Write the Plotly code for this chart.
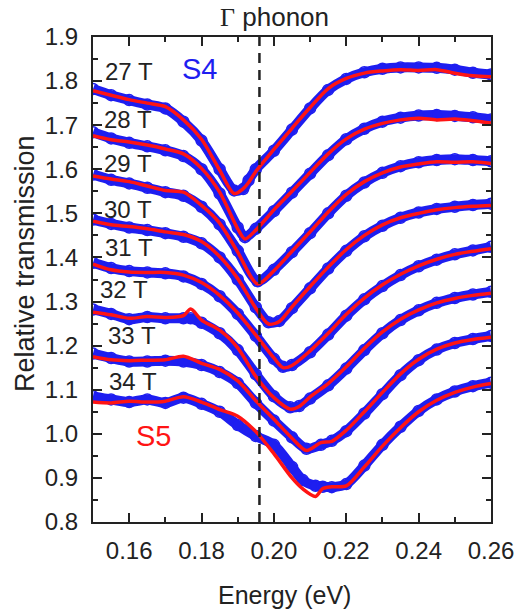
import plotly.graph_objects as go

# ---------------- data ----------------
x27 = [.150,.155,.160,.165,.170,.175,.180,.185,.189,.1915,.193,.195,.200,.205,.210,.215,.220,.225,.230,.235,.240,.245,.250,.255,.260]
b27 = [1.782,1.768,1.757,1.747,1.738,1.708,1.665,1.600,1.552,1.555,1.575,1.600,1.642,1.690,1.738,1.780,1.805,1.820,1.828,1.831,1.831,1.830,1.826,1.819,1.815]
r27 = [1.778,1.768,1.758,1.750,1.742,1.712,1.668,1.598,1.545,1.556,1.570,1.595,1.645,1.693,1.740,1.783,1.806,1.818,1.823,1.826,1.824,1.826,1.818,1.812,1.810]

x28 = [.150,.155,.160,.165,.170,.175,.180,.185,.190,.192,.195,.200,.205,.210,.215,.220,.225,.230,.235,.240,.245,.250,.255,.260]
b28 = [1.684,1.670,1.660,1.652,1.643,1.630,1.600,1.545,1.468,1.446,1.465,1.505,1.547,1.590,1.632,1.668,1.692,1.708,1.717,1.722,1.723,1.721,1.718,1.713]
r28 = [1.676,1.667,1.662,1.655,1.646,1.635,1.602,1.548,1.465,1.442,1.462,1.508,1.550,1.593,1.635,1.669,1.691,1.704,1.712,1.716,1.712,1.714,1.710,1.705]

x29 = [.150,.155,.160,.165,.170,.175,.180,.185,.190,.1955,.200,.205,.210,.215,.220,.225,.230,.235,.240,.245,.250,.255,.260]
b29 = [1.588,1.576,1.568,1.558,1.548,1.540,1.515,1.475,1.415,1.346,1.372,1.412,1.455,1.500,1.540,1.570,1.592,1.607,1.616,1.621,1.623,1.621,1.618]
r29 = [1.585,1.578,1.572,1.562,1.552,1.548,1.518,1.478,1.412,1.340,1.370,1.414,1.458,1.503,1.543,1.572,1.592,1.605,1.612,1.617,1.616,1.617,1.613]

x30 = [.150,.155,.160,.165,.170,.175,.180,.185,.190,.195,.1985,.2015,.205,.210,.215,.220,.225,.230,.235,.240,.245,.250,.255,.260]
b30 = [1.486,1.476,1.468,1.462,1.455,1.447,1.432,1.400,1.350,1.287,1.253,1.256,1.285,1.330,1.375,1.415,1.448,1.472,1.490,1.502,1.510,1.515,1.519,1.522]
r30 = [1.482,1.474,1.470,1.465,1.458,1.452,1.436,1.402,1.352,1.285,1.249,1.255,1.288,1.334,1.378,1.418,1.450,1.474,1.490,1.500,1.508,1.513,1.516,1.518]

x31 = [.150,.155,.160,.165,.170,.175,.180,.185,.190,.195,.200,.2025,.205,.210,.215,.220,.225,.230,.235,.240,.245,.250,.255,.260]
b31 = [1.388,1.376,1.369,1.366,1.364,1.357,1.340,1.312,1.272,1.222,1.170,1.152,1.156,1.185,1.225,1.268,1.305,1.335,1.360,1.380,1.395,1.407,1.416,1.424]
r31 = [1.385,1.372,1.367,1.366,1.366,1.360,1.343,1.314,1.274,1.224,1.172,1.150,1.155,1.188,1.228,1.271,1.308,1.338,1.362,1.381,1.396,1.407,1.414,1.420]

x32 = [.150,.155,.160,.165,.170,.175,.177,.180,.185,.190,.195,.200,.2045,.207,.210,.215,.220,.225,.230,.235,.240,.245,.250,.255,.260]
b32 = [1.282,1.272,1.260,1.265,1.262,1.262,1.262,1.252,1.228,1.190,1.135,1.085,1.060,1.063,1.080,1.110,1.148,1.190,1.228,1.258,1.280,1.297,1.308,1.316,1.322]
r32 = [1.276,1.270,1.262,1.266,1.264,1.268,1.283,1.258,1.235,1.195,1.130,1.082,1.056,1.062,1.084,1.114,1.152,1.194,1.231,1.260,1.281,1.297,1.307,1.314,1.319]

x33 = [.150,.155,.160,.165,.170,.175,.180,.185,.190,.195,.200,.205,.209,.213,.216,.220,.225,.230,.235,.240,.245,.250,.255,.260]
b33 = [1.182,1.172,1.164,1.164,1.166,1.164,1.156,1.140,1.115,1.070,1.030,0.992,0.966,0.975,0.984,1.006,1.046,1.090,1.133,1.167,1.191,1.206,1.215,1.222]
r33 = [1.175,1.168,1.166,1.167,1.168,1.176,1.160,1.146,1.120,1.075,1.033,0.990,0.962,0.980,0.983,1.008,1.050,1.094,1.136,1.169,1.192,1.206,1.214,1.219]

x34 = [.150,.155,.160,.165,.170,.175,.180,.185,.190,.195,.200,.205,.208,.2115,.2135,.216,.220,.225,.230,.235,.240,.245,.250,.255,.260]
b34 = [1.085,1.078,1.072,1.078,1.070,1.082,1.068,1.050,1.020,0.995,0.975,0.925,0.895,0.882,0.880,0.879,0.886,0.928,0.975,1.016,1.052,1.078,1.096,1.108,1.116]
r34 = [1.072,1.070,1.074,1.072,1.074,1.084,1.072,1.055,1.040,1.005,0.955,0.900,0.875,0.858,0.876,0.880,0.882,0.925,0.972,1.014,1.050,1.076,1.094,1.106,1.114]

field_labels = ["27 T", "28 T", "29 T", "30 T", "31 T", "32 T", "33 T", "34 T"]
label_x = [0.1528, 0.1525, 0.1525, 0.1525, 0.1528, 0.1515, 0.1537, 0.1539]
label_y = [1.821, 1.712, 1.614, 1.508, 1.422, 1.327, 1.224, 1.118]
phonon_energy = 0.196

curves = [(x27, b27, r27), (x28, b28, r28), (x29, b29, r29), (x30, b30, r30),
          (x31, b31, r31), (x32, b32, r32), (x33, b33, r33), (x34, b34, r34)]

BLUE = "rgb(30,30,240)"
RED = "rgb(255,20,20)"
INK = "#222222"
FONT = "Liberation Sans, Arial, sans-serif"

fig = go.Figure()
for xs, bs, rs in curves:
    fig.add_trace(go.Scatter(x=xs, y=bs, mode="lines+markers",
                             line=dict(color=BLUE, width=10, shape="spline", smoothing=0.8),
                             marker=dict(symbol="circle-open", size=11, color=BLUE,
                                         line=dict(width=1.5, color="rgb(15,15,210)")),
                             showlegend=False, hoverinfo="skip"))
for xs, bs, rs in curves:
    fig.add_trace(go.Scatter(x=xs, y=rs, mode="lines",
                             line=dict(color=RED, width=3.5, shape="spline", smoothing=0.8),
                             showlegend=False, hoverinfo="skip"))

fig.add_shape(type="line", x0=phonon_energy, x1=phonon_energy, y0=0.8, y1=1.9,
              xref="x", yref="y", line=dict(color=INK, width=2.5, dash="10px,7px"), layer="above")

for t, lx, ly in zip(field_labels, label_x, label_y):
    fig.add_annotation(x=lx, y=ly, text=t, showarrow=False, xanchor="left", yanchor="middle",
                       font=dict(family=FONT, size=24, color=INK))

fig.add_annotation(x=0.1795, y=1.828, text="S4", showarrow=False,
                   font=dict(family=FONT, size=29, color=BLUE))
fig.add_annotation(x=0.1666, y=0.995, text="S5", showarrow=False,
                   font=dict(family=FONT, size=29, color=RED))
fig.add_annotation(x=0.4571, y=1.0, xref="paper", yref="paper", yanchor="bottom", yshift=3,
                   text="<span style='font-family:Liberation Serif'>Γ</span> phonon",
                   showarrow=False, font=dict(family=FONT, size=26, color=INK))
fig.add_annotation(x=0.48, y=-0.1505, xref="paper", yref="paper", text="Energy (eV)",
                   showarrow=False, yanchor="middle", font=dict(family=FONT, size=25, color=INK))
fig.add_annotation(x=-0.171, y=0.534, xref="paper", yref="paper", text="Relative transmission",
                   textangle=-90, showarrow=False, xanchor="center", yanchor="middle",
                   font=dict(family=FONT, size=27, color=INK))

axis_common = dict(showgrid=False, zeroline=False, showline=True, linecolor=INK, linewidth=2,
                   mirror="ticks", ticks="inside", tickcolor=INK, tickwidth=2, ticklen=9,
                   tickfont=dict(family=FONT, size=24, color=INK))
fig.update_xaxes(range=[0.15, 0.26], dtick=0.02, tick0=0.16, tickformat=".2f",
                 minor=dict(dtick=0.01, tick0=0.15, ticks="inside", ticklen=5, tickcolor=INK, tickwidth=2),
                 ticklabelstandoff=6, **axis_common)
fig.update_yaxes(range=[0.8, 1.9], dtick=0.1, tick0=0.8, tickformat=".1f",
                 minor=dict(dtick=0.05, tick0=0.8, ticks="inside", ticklen=5, tickcolor=INK, tickwidth=2),
                 ticklabelstandoff=8, **axis_common)

fig.update_layout(width=528, height=613, margin=dict(l=93, r=37, t=37, b=91),
                  paper_bgcolor="white", plot_bgcolor="white",
                  font=dict(family=FONT, size=24, color=INK))
fig.write_html("out.html")
